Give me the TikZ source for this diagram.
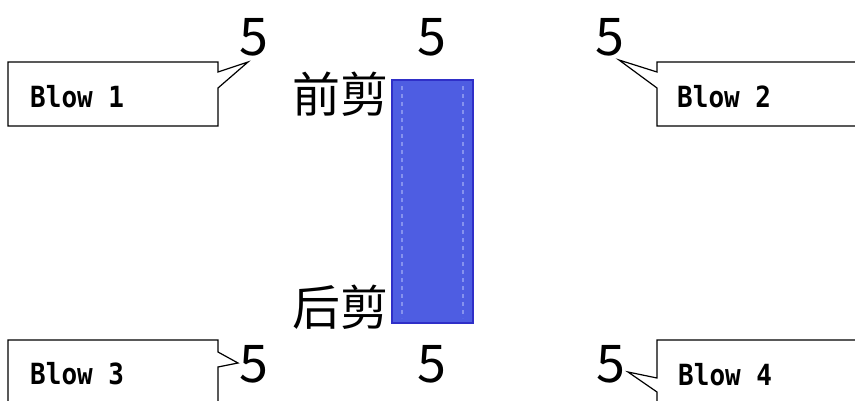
\documentclass[tikz,border=0pt]{standalone}
\usepackage{fontspec}
\setmainfont{Noto Sans CJK SC}
\newfontfamily\blowfont{DejaVu Sans Mono}
\usetikzlibrary{positioning,calc}

\definecolor{stripfill}{HTML}{4E5DE2}
\definecolor{stripedge}{HTML}{2F2FC8}
\definecolor{stripdash}{HTML}{8592EE}

\newcommand{\blowtext}[1]{\scalebox{1}[1.12]{#1}}

\tikzset{
  numlabel/.style={inner sep=0pt, font=\fontsize{52}{52}\selectfont},
  cutlabel/.style={inner sep=0pt, anchor=east, font=\fontsize{48}{48}\selectfont},
  blowlabel/.style={inner sep=0pt, anchor=west, font=\blowfont\bfseries\fontsize{26}{26}\selectfont},
  blowbox/.style={draw=black, line width=1.2pt, fill=white}
}

\begin{document}
\begin{tikzpicture}[x=1pt,y=-1pt]
\useasboundingbox (0,0) rectangle (855,400);
\fill[white] (0,0) rectangle (855,400);

% the strip
\draw[fill=stripfill, draw=stripedge, line width=1.5pt] (392,80) rectangle (473,323);
\draw[stripdash, dash pattern=on 4pt off 4pt, line width=2.5pt] (402,86) -- (402,318);
\draw[stripdash, dash pattern=on 4pt off 4pt, line width=2.5pt] (463,86) -- (463,318);
\node[cutlabel] (front) at (389,94) {前剪};
\node[cutlabel] (back) at (389,307) {后剪};

% the numbers
\node[numlabel] (n1) at (254,37) {5};
\node[numlabel] (n2) at (432,37) {5};
\node[numlabel] (n3) at (610,37) {5};
\node[numlabel] (n4) at (254,364) {5};
\node[numlabel] (n5) at (432,364) {5};
\node[numlabel] (n6) at (611,364) {5};

% callouts
\coordinate (t1) at (248,62);
\coordinate (t2) at (619,60);
\coordinate (t3) at (238,363);
\coordinate (t4) at (628,372);
\draw[blowbox] (8,62) -- (218,62) -- (218,72) -- (t1) -- (218,88) -- (218,126) -- (8,126) -- cycle;
\draw[blowbox] (860,62) -- (657,62) -- (657,72) -- (t2) -- (657,88) -- (657,126) -- (860,126);
\draw[blowbox] (8,406) -- (8,340) -- (218,340) -- (218,352) -- (t3) -- (218,367) -- (218,406);
\draw[blowbox] (860,340) -- (657,340) -- (657,378) -- (t4) -- (657,392) -- (657,406);
\node[blowlabel] (b1) at (30,97) {\blowtext{Blow 1}};
\node[blowlabel] (b2) at (677,97) {\blowtext{Blow 2}};
\node[blowlabel] (b3) at (30,374) {\blowtext{Blow 3}};
\node[blowlabel] (b4) at (678,375) {\blowtext{Blow 4}};
\end{tikzpicture}
\end{document}
